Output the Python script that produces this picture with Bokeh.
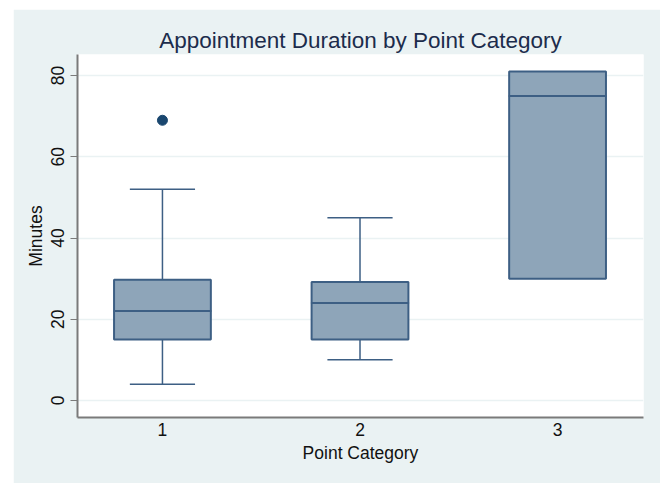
from bokeh.plotting import figure
from bokeh.models import Range1d, Title, Spacer, FixedTicker
from bokeh.layouts import row, column
from bokeh.embed import file_html
from bokeh.resources import INLINE

# ---- data ----
categories = [1, 2, 3]
q1 = [15, 15, 30]
median = [22, 24, 75]
q3 = [29.7, 29.2, 81]
lower_whisker = [4, 10, 30]
upper_whisker = [52, 45, 81]
outlier_x = [1]
outlier_y = [69]
y_ticks = [0, 20, 40, 60, 80]
x_ticks = [1, 2, 3]

# ---- styles ----
BG = "#eaf2f3"
BOX_FILL = "#8ea5b9"
BOX_LINE = "#3d5f84"
MARKER = "#1a476f"
FONT = "Liberation Sans"
BOX_W = 0.49
CAP_W = 0.33

p = figure(width=647, height=474, output_backend="svg", toolbar_location=None,
           x_range=Range1d(0.57, 3.435), y_range=Range1d(-4.2, 85.2),
           min_border_left=64, min_border_right=17, min_border_top=45, min_border_bottom=66,
           background_fill_color="white", border_fill_color=BG, outline_line_color=None)

p.title = Title(text="Appointment Duration by Point Category", align="center",
                text_font=FONT, text_font_size="22.5px", text_font_style="normal",
                text_color="#1c2c4c", standoff=4)

# grid
p.xgrid.grid_line_color = None
p.ygrid.grid_line_color = BG
p.ygrid.grid_line_width = 1.5
p.ygrid.ticker = FixedTicker(ticks=y_ticks)

# axes
p.yaxis.ticker = FixedTicker(ticks=y_ticks)
p.xaxis.ticker = FixedTicker(ticks=x_ticks)
p.yaxis.major_label_orientation = "vertical"
for ax in (p.xaxis[0], p.yaxis[0]):
    ax.axis_line_color = "#7a7a7a"
    ax.axis_line_width = 2
    ax.major_tick_line_color = "#7a7a7a"
    ax.major_tick_line_width = 1
    ax.minor_tick_line_color = None
    ax.major_label_text_font = FONT
    ax.major_label_text_font_size = "17.5px"
    ax.major_label_text_color = "#111111"
    ax.axis_label_text_font = FONT
    ax.axis_label_text_font_size = "17.5px"
    ax.axis_label_text_font_style = "normal"
    ax.axis_label_text_color = "#111111"
p.yaxis.major_tick_out = 7
p.yaxis.major_tick_in = 0
p.xaxis.major_tick_out = 0
p.xaxis.major_tick_in = 0
p.yaxis.major_label_standoff = 6
p.xaxis.major_label_standoff = 5
p.yaxis.axis_label = "Minutes"
p.xaxis.axis_label = "Point Category"
p.yaxis.axis_label_standoff = 3
p.xaxis.axis_label_standoff = 4

# whiskers (only where they extend beyond the box)
stem_x, stem_y0, stem_y1 = [], [], []
for c, a, b, lo, hi in zip(categories, q1, q3, lower_whisker, upper_whisker):
    if lo < a:
        stem_x.append(c); stem_y0.append(a); stem_y1.append(lo)
    if hi > b:
        stem_x.append(c); stem_y0.append(b); stem_y1.append(hi)
p.segment(x0=stem_x, y0=stem_y0, x1=stem_x, y1=stem_y1, line_color=BOX_LINE, line_width=1.5)
p.segment(x0=[x - CAP_W / 2 for x in stem_x], y0=stem_y1,
          x1=[x + CAP_W / 2 for x in stem_x], y1=stem_y1,
          line_color=BOX_LINE, line_width=1.5)

# boxes
p.vbar(x=categories, width=BOX_W, bottom=q1, top=median,
       fill_color=BOX_FILL, line_color=BOX_LINE, line_width=2)
p.vbar(x=categories, width=BOX_W, bottom=median, top=q3,
       fill_color=BOX_FILL, line_color=BOX_LINE, line_width=2)

# outliers
p.scatter(x=outlier_x, y=outlier_y, size=10, fill_color=MARKER, line_color=MARKER)

layout = row(Spacer(width=13, height=483), column(Spacer(width=647, height=9), p))
open("out.html", "w").write(file_html(layout, INLINE))
